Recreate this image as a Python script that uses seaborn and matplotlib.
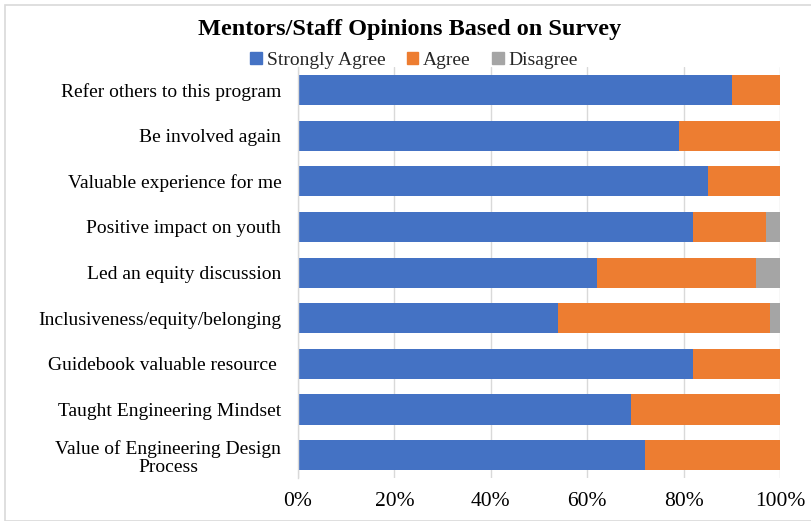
import matplotlib
matplotlib.use("Agg")
import matplotlib.pyplot as plt
import seaborn as sns
import pandas as pd
import numpy as np
from matplotlib.patches import Rectangle, Patch
from matplotlib.ticker import PercentFormatter

categories = [
    "Refer others to this program",
    "Be involved again",
    "Valuable experience for me",
    "Positive impact on youth",
    "Led an equity discussion",
    "Inclusiveness/equity/belonging",
    "Guidebook valuable resource ",
    "Taught Engineering Mindset",
    "Value of Engineering Design\nProcess",
]
strongly_agree = [90, 79, 85, 82, 62, 54, 82, 69, 72]
agree = [10, 21, 15, 15, 33, 44, 18, 31, 28]
disagree = [0, 0, 0, 3, 5, 2, 0, 0, 0]

c_blue, c_orange, c_grey = "#4472C4", "#ED7D31", "#A5A5A5"

df = pd.DataFrame({"cat": categories, "sa": strongly_agree, "ag": agree, "dis": disagree})
df["c2"] = df["sa"] + df["ag"]
df["c3"] = df["c2"] + df["dis"]

sns.set_theme(style="white")
plt.rcParams["font.family"] = ["Liberation Serif", "DejaVu Serif"]

fig = plt.figure(figsize=(8.12, 5.21), dpi=100)
ax = fig.add_axes([0.367, 0.0825, 0.5936, 0.7885])

bw = 0.66
sns.barplot(data=df, y="cat", x="c3", color=c_grey, orient="h", width=bw, ax=ax, saturation=1, linewidth=0)
sns.barplot(data=df, y="cat", x="c2", color=c_orange, orient="h", width=bw, ax=ax, saturation=1, linewidth=0)
sns.barplot(data=df, y="cat", x="sa", color=c_blue, orient="h", width=bw, ax=ax, saturation=1, linewidth=0)

ax.set_xlim(0, 100)
ax.set_ylim(8.5, -0.5)
ax.set_xticks([0, 20, 40, 60, 80, 100])
ax.xaxis.set_major_formatter(PercentFormatter(decimals=0))
ax.grid(axis="x", color="#D9D9D9", linewidth=1)
ax.set_axisbelow(True)
for s in ["top", "right", "bottom"]:
    ax.spines[s].set_visible(False)
ax.spines["left"].set_color("#D9D9D9")
ax.spines["left"].set_linewidth(1)
ax.set_xlabel("")
ax.set_ylabel("")
ax.tick_params(axis="x", labelsize=15.5, length=0, pad=10, colors="black")
ax.tick_params(axis="y", labelsize=14, length=0, pad=12, colors="black")
for lab in ax.get_yticklabels():
    lab.set_multialignment("center")
    lab.set_linespacing(1.12)

fig.text(0.505, 0.943, "Mentors/Staff Opinions Based on Survey", ha="center", va="center",
         fontsize=17.5, fontweight="bold", color="black")
handles = [Patch(color=c_blue, label="Strongly Agree"),
           Patch(color=c_orange, label="Agree"),
           Patch(color=c_grey, label="Disagree")]
fig.legend(handles=handles, loc="center", bbox_to_anchor=(0.51, 0.884), ncol=3, frameon=False,
           fontsize=14, handlelength=0.6, handleheight=0.6, handletextpad=0.25, columnspacing=1.1)

fig.add_artist(Rectangle((0.006, 0.0), 0.994, 0.99, transform=fig.transFigure, fill=False,
                         edgecolor="#D9D9D9", linewidth=1.2))

fig.savefig("out.png", dpi=100)
